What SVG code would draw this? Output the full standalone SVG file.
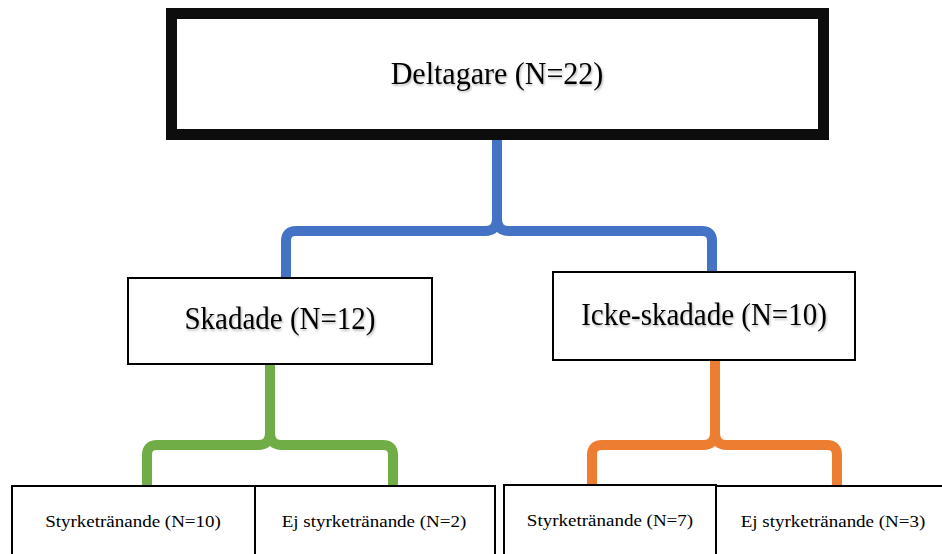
<svg xmlns="http://www.w3.org/2000/svg" width="942" height="554" viewBox="0 0 942 554">
<defs>
<style>
.box{fill:#fff;stroke:#000;stroke-width:2}
.big{fill:#fff;stroke:#0d0d0d;stroke-width:11}
.t{font-family:"Liberation Serif","Times New Roman",serif;fill:#000;text-anchor:middle}
.c{fill:none;stroke-width:10;stroke-linecap:butt;stroke-linejoin:round}
</style>
<filter id="sh" x="-10%" y="-30%" width="120%" height="160%">
<feDropShadow dx="1" dy="1.5" stdDeviation="1.2" flood-color="#000" flood-opacity="0.3"/>
</filter>
</defs>
<g id="connectors">
<path class="c" stroke="#4472C4" d="M286,280 V241 Q286,231 296,231 H485 Q497,231 497,219 V138 M497,219 Q497,231 509,231 H702 Q712,231 712,241 V276"/>
<path class="c" stroke="#70AD47" d="M147,488 V455 Q147,445 157,445 H258 Q270,445 270,433 V362 M270,433 Q270,445 282,445 H383 Q393,445 393,455 V488"/>
<path class="c" stroke="#ED7D31" d="M592,487 V455 Q592,445 602,445 H703 Q715,445 715,433 V358 M715,433 Q715,445 727,445 H827 Q837,445 837,455 V487"/>
</g>
<g id="deltagare">
<rect class="big" x="171.5" y="13.5" width="652" height="121"/>
<text class="t" transform="translate(497,84) scale(1,1.06)" font-size="30" filter="url(#sh)">Deltagare (N=22)</text>
</g>
<g id="skadade">
<rect class="box" x="128" y="278" width="304" height="86"/>
<text class="t" transform="translate(280,329) scale(1,1.1)" font-size="29" filter="url(#sh)">Skadade (N=12)</text>
</g>
<g id="icke-skadade">
<rect class="box" x="553" y="272" width="302" height="88"/>
<text class="t" transform="translate(704,325) scale(1,1.1)" font-size="29" filter="url(#sh)">Icke-skadade (N=10)</text>
</g>
<g id="s-styrke">
<rect class="box" x="12" y="486" width="243" height="80"/>
<text class="t" transform="translate(133,527) scale(1,0.9)" font-size="19">Styrketränande (N=10)</text>
</g>
<g id="s-ej">
<rect class="box" x="255" y="486" width="240" height="80"/>
<text class="t" transform="translate(374,527) scale(1,0.9)" font-size="19">Ej styrketränande (N=2)</text>
</g>
<g id="i-styrke">
<rect class="box" x="504" y="485" width="212" height="80"/>
<text class="t" transform="translate(610,526) scale(1,0.9)" font-size="19">Styrketränande (N=7)</text>
</g>
<g id="i-ej">
<rect class="box" x="716" y="486" width="230" height="80"/>
<text class="t" transform="translate(833,527) scale(1,0.9)" font-size="19">Ej styrketränande (N=3)</text>
</g>
</svg>
